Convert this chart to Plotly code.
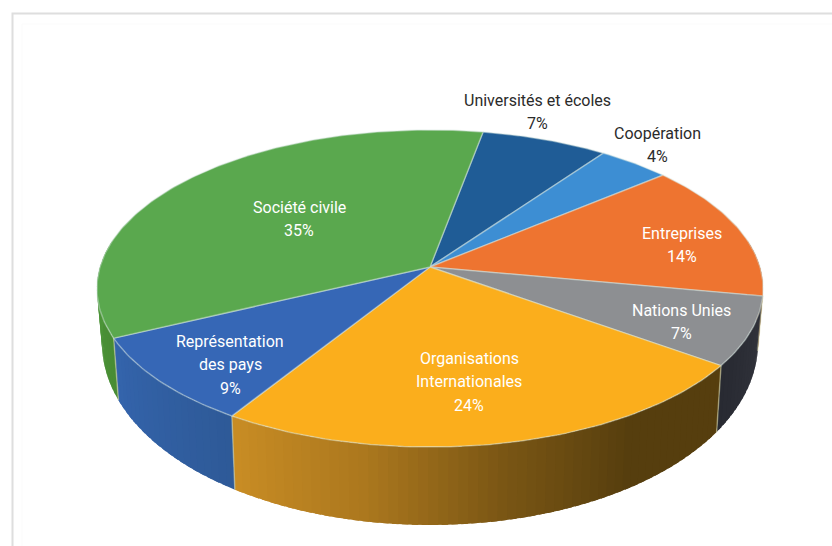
import math
import plotly.graph_objects as go

# Pie content
labels = ["Universités et écoles", "Coopération", "Entreprises", "Nations Unies",
          "Organisations|Internationales", "Représentation|des pays", "Société civile"]
values = [7, 4, 14, 7, 24, 9, 35]

# Top face fill, and the colour ramp of the rim for each slice
top_colors = ["#1f5c96", "#3d8ed3", "#ee7430", "#8d8f92", "#fbae1c", "#3667b6", "#5aa84e"]
rim_ramps = {
    0: [(31, 80, 130)], 1: [(45, 110, 170)], 2: [(190, 90, 35)],
    3: [(50, 52, 60), (40, 42, 50)],
    4: [(86, 62, 14), (86, 62, 14), (122, 86, 20), (172, 120, 30), (200, 140, 36)],
    5: [(46, 90, 152), (52, 100, 172)],
    6: [(72, 140, 52), (80, 155, 60)],
}
text_colors = ["#2b2b2b", "#2b2b2b", "#ffffff", "#ffffff", "#ffffff", "#ffffff", "#ffffff"]
# Centre of each label block's first line, and the pitch between lines
label_xy = [(537, 100), (657, 133), (682, 233), (681, 310), (469, 358), (230, 341), (299, 207)]
LINE_PITCH = 23.5

# Projection of the tilted disc
CX, CY = 430, 267
R, K, P = 330, 155.6, 0.1356
BOTTOM_SCALE = 0.985
START = 10.5


def top_point(theta):
    a = math.radians(theta)
    u, v = math.sin(a), -math.cos(a)
    w = 1 - P * v
    return CX + R * u / w, CY + K * v / w


def bottom_point(theta):
    a = math.radians(theta)
    u, v = math.sin(a), -math.cos(a)
    w = 1 - P * v
    return CX + BOTTOM_SCALE * R * u / w, CY + K * v / w + 50 + 28 * v


def ramp_color(stops, t):
    if len(stops) == 1:
        return "rgb(%d,%d,%d)" % stops[0]
    pos = t * (len(stops) - 1)
    i = min(int(pos), len(stops) - 2)
    f = pos - i
    c = [stops[i][k] + (stops[i + 1][k] - stops[i][k]) * f for k in range(3)]
    return "rgb(%d,%d,%d)" % tuple(round(x) for x in c)


def frange(a, b, step):
    n = max(2, int(abs(b - a) / step) + 1)
    return [a + (b - a) * i / (n - 1) for i in range(n)]


total = sum(values)
bounds = [START]
for val in values:
    bounds.append(bounds[-1] + val / total * 360)

fig = go.Figure()

# Chart frame
fig.add_trace(go.Scatter(x=[12.5, 12.5, 832], y=[546, 13.5, 13.5], mode="lines",
                         line=dict(color="#dedede", width=2), hoverinfo="skip"))
fig.add_trace(go.Scatter(x=[22, 22, 832], y=[546, 24, 24], mode="lines",
                         line=dict(color="#fbfbfb", width=1), hoverinfo="skip"))

# Rim: each strip overlaps the next slightly, so no gaps show between them
for i, val in enumerate(values):
    a0, b0 = bounds[i], bounds[i + 1]
    lo, hi = max(a0, 80), min(b0, 280)
    if lo >= hi:
        continue
    steps = frange(lo, hi, 1.5)
    for j in range(len(steps) - 1):
        t0 = steps[j]
        t1 = min(steps[j + 1] + 1.0, hi)
        xs0, ys0 = top_point(t0)
        xs1, ys1 = top_point(t1)
        xb1, yb1 = bottom_point(t1)
        xb0, yb0 = bottom_point(t0)
        col = ramp_color(rim_ramps[i], j / max(1, len(steps) - 2))
        fig.add_trace(go.Scatter(
            x=[xs0, xs1, xb1, xb0, xs0], y=[ys0, ys1, yb1, yb0, ys0],
            mode="lines", fill="toself", fillcolor=col,
            line=dict(color=col, width=0), hoverinfo="skip"))

# Pale seams where two slices meet on the rim
for edge in bounds:
    if 80 < edge < 280:
        xs, ys = top_point(edge)
        xb, yb = bottom_point(edge)
        fig.add_trace(go.Scatter(x=[xs, xb], y=[ys, yb], mode="lines",
                                 line=dict(color="rgba(215,215,170,0.5)", width=1.5),
                                 hoverinfo="skip"))

# Top face wedges
for i, val in enumerate(values):
    arc = [top_point(t) for t in frange(bounds[i], bounds[i + 1], 1.0)]
    xs = [CX] + [p[0] for p in arc] + [CX]
    ys = [CY] + [p[1] for p in arc] + [CY]
    fig.add_trace(go.Scatter(x=xs, y=ys, mode="lines", fill="toself",
                             fillcolor=top_colors[i],
                             line=dict(color="rgba(215,230,225,0.45)", width=1.5),
                             hoverinfo="skip"))

# Labels, one annotation per line to hold the line pitch
for i, (lab, val) in enumerate(zip(labels, values)):
    lines = lab.split("|") + [f"{val}%"]
    for n, line in enumerate(lines):
        fig.add_annotation(x=label_xy[i][0], y=label_xy[i][1] + n * LINE_PITCH, text=line,
                           showarrow=False, xanchor="center", yanchor="middle", align="center",
                           font=dict(family="Roboto", size=16, color=text_colors[i]))

fig.update_layout(
    width=832, height=546, margin=dict(l=0, r=0, t=0, b=0), showlegend=False,
    paper_bgcolor="white", plot_bgcolor="white",
    xaxis=dict(range=[0, 832], visible=False, fixedrange=True),
    yaxis=dict(range=[546, 0], visible=False, fixedrange=True),
)
fig.write_html("out.html", config={"displayModeBar": False})
